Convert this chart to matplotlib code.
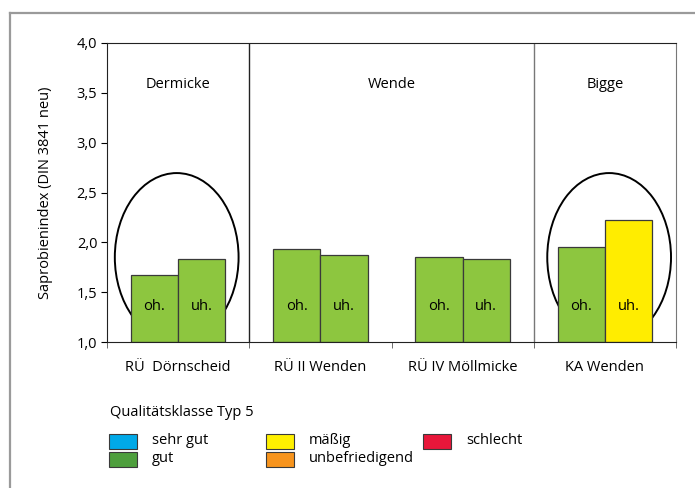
import matplotlib
matplotlib.use('Agg')
import matplotlib.pyplot as plt
from matplotlib.patches import Ellipse, Rectangle
from matplotlib.lines import Line2D
import numpy as np

plt.rcParams['font.family'] = ['Open Sans', 'DejaVu Sans']
plt.rcParams['font.size'] = 10.5

# Messstellen und Saprobienindex oberhalb (oh.) / unterhalb (uh.)
stations = ['RÜ  Dörnscheid', 'RÜ II Wenden', 'RÜ IV Möllmicke', 'KA Wenden']
oh_values = [1.67, 1.93, 1.85, 1.95]
uh_values = [1.83, 1.87, 1.83, 2.22]
oh_class = ['gut', 'gut', 'gut', 'gut']
uh_class = ['gut', 'gut', 'gut', 'mäßig']

# Gewässerabschnitte: (Name, erste Messstelle, letzte Messstelle)
rivers = [('Dermicke', 0, 0), ('Wende', 1, 2), ('Bigge', 3, 3)]
circled = [0, 3]

class_names = ['sehr gut', 'gut', 'mäßig', 'unbefriedigend', 'schlecht']
legend_colors = ['#00a9e8', '#4e9f3d', '#fff000', '#f7941d', '#e8173a']
bar_colors = {'gut': '#8dc63f', 'mäßig': '#ffed00'}

fig = plt.figure(figsize=(6.95, 4.88), dpi=100)
W, H = 695, 488
ax = fig.add_axes([107 / W, 1 - 342 / H, (676 - 107) / W, (342 - 43) / H])

x = np.arange(len(stations)) + 0.5
bw = 0.333
edge = '#3a3a3a'

# Ellipsen um die auffälligen Messstellen
for i in circled:
    ell = Ellipse((x[i] + (0.03 if i == 3 else -0.01), 1.85), 0.87, 1.69,
                  facecolor='none', edgecolor='black', lw=1.4, zorder=1)
    ax.add_patch(ell)

ax.bar(x - bw / 2, [v - 1 for v in oh_values], bw, bottom=1,
       color=[bar_colors[c] for c in oh_class], edgecolor=edge, lw=0.9, zorder=2)
ax.bar(x + bw / 2, [v - 1 for v in uh_values], bw, bottom=1,
       color=[bar_colors[c] for c in uh_class], edgecolor=edge, lw=0.9, zorder=2)

for xi in x:
    ax.text(xi - bw / 2, 1.36, 'oh.', ha='center', va='center', zorder=3)
    ax.text(xi + bw / 2, 1.36, 'uh.', ha='center', va='center', zorder=3)

# Trennlinien und Beschriftung der Gewässer
for name, a, b in rivers:
    ax.text((a + b + 1) / 2, 3.58, name, ha='center', va='center')
    if a > 0:
        ax.axvline(a, color='#222222' if a == 1 else '#777777', lw=1, zorder=1)

ax.set_xlim(0, len(stations))
ax.set_ylim(1, 4)
ax.set_yticks(np.arange(1, 4.01, 0.5))
ax.set_yticklabels([f'{t:.1f}'.replace('.', ',') for t in np.arange(1, 4.01, 0.5)])
ax.set_xticks(x)
ax.set_xticklabels(stations)
ax.set_xticks(np.arange(len(stations) + 1), minor=True)
ax.tick_params(axis='x', which='major', length=0, pad=13)
ax.tick_params(axis='x', which='minor', length=4, color='#555555')
ax.tick_params(axis='y', length=4, pad=3)
ax.set_ylabel('Saprobienindex (DIN 3841 neu)', labelpad=17)

for side in ['left', 'bottom', 'top']:
    ax.spines[side].set_color('#222222')
ax.spines['right'].set_color('#777777')

# Legende der Qualitätsklassen
fig.text(110 / W, 1 - 413 / H, 'Qualitätsklasse Typ 5', va='center', ha='left')
slots = [(109, 441), (109, 459), (266, 441), (266, 459), (423, 441)]
for (px, py), name, col in zip(slots, class_names, legend_colors):
    fig.patches.append(Rectangle((px / W, 1 - (py + 7.5) / H), 28 / W, 15 / H,
                                 transform=fig.transFigure, facecolor=col,
                                 edgecolor=edge, lw=0.8))
    fig.text((px + 43) / W, 1 - py / H, name, va='center', ha='left')

# äußerer Rahmen
fig.add_artist(Line2D([10 / W, 10 / W], [0, 1 - 13 / H], transform=fig.transFigure,
                      color='#9a9a9a', lw=1.6))
fig.add_artist(Line2D([10 / W, 1], [1 - 13 / H, 1 - 13 / H], transform=fig.transFigure,
                      color='#9a9a9a', lw=1.6))

fig.savefig('out.png', dpi=100)
